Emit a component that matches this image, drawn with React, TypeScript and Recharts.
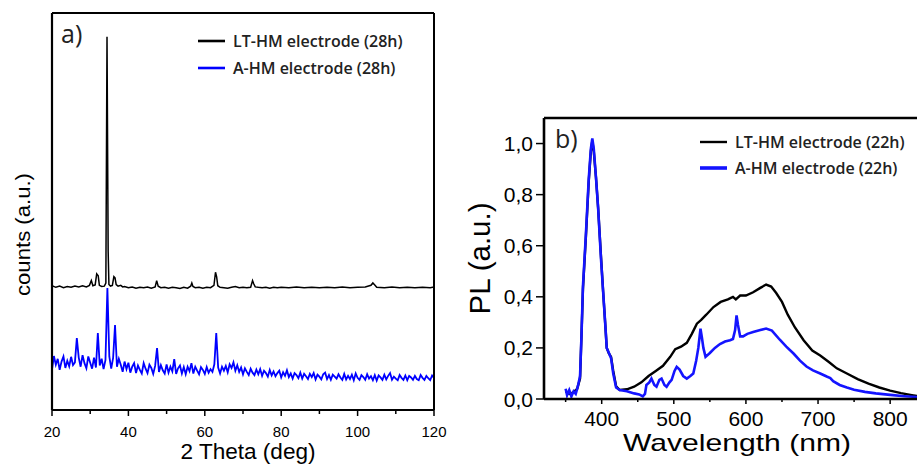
import React from 'react';
import { LineChart, Line, XAxis, YAxis, Legend, Label } from 'recharts';

// ---------- Panel a) XRD ----------
const xrdSeriesNames = ['LT-HM electrode (28h)', 'A-HM electrode (28h)'];
const xrdTicks = [20, 30, 40, 50, 60, 70, 80, 90, 100, 110, 120];
// LT-HM (black) [2theta, counts]
const xrdBlack: number[][] = [
  [20, 31.3], [21, 30.9], [22, 31.2], [23, 30.8], [24, 31.1], [25, 30.9], [26, 31.2], [27, 31.0], [28, 31.3], [29, 31.0],
  [29.8, 31.4], [30.3, 32.6], [30.7, 31.3], [31.3, 31.5], [31.7, 34.3], [32.1, 33.8], [32.4, 31.4], [33, 31.1], [33.7, 31.2],
  [34.1, 32.0], [34.4, 94], [34.7, 40], [34.9, 31.6], [35.3, 31.2], [35.8, 31.4], [36.2, 33.6], [36.5, 33.3], [36.8, 31.6],
  [37.3, 31.2], [38, 31.4], [38.5, 31.0], [39, 31.1], [40, 30.8], [41, 31.0], [42, 30.7], [43, 30.9], [44, 30.8], [45, 31.0],
  [46, 30.7], [47, 31.0], [47.4, 32.6], [47.8, 31.2], [48.5, 30.8], [49.5, 30.9], [50.5, 30.7], [51.5, 30.9], [52.5, 30.8],
  [53.5, 30.6], [54.5, 30.9], [55.5, 30.7], [56.3, 31.2], [56.6, 32.0], [56.9, 31.1], [57.5, 30.8], [58.5, 30.9], [59.5, 30.7],
  [60.5, 30.9], [61.5, 30.8], [62.4, 31.4], [62.8, 34.7], [63.1, 33.5], [63.4, 31.3], [64, 30.9], [65, 30.8], [66, 30.7],
  [67, 30.9], [68, 31.1], [69, 30.8], [70, 30.9], [71, 30.8], [72, 30.9], [72.5, 32.6], [72.8, 31.8], [73.2, 31.0], [74, 30.9],
  [75, 30.8], [76, 30.9], [77, 30.7], [78, 30.9], [79, 30.8], [80, 30.9], [82, 30.8], [84, 31.0], [86, 30.8], [88, 30.9],
  [90, 30.8], [92, 30.9], [94, 30.8], [96, 31.0], [98, 30.8], [100, 30.9], [102, 31.0], [103.5, 31.4], [104, 32.0],
  [104.5, 31.5], [105, 30.9], [107, 30.8], [109, 31.0], [111, 30.8], [113, 30.9], [115, 30.8], [117, 30.9], [119, 30.8], [120, 31.0],
];
// A-HM (blue) sampled every 0.5 deg from 20 to 120
const xrdBlueStart = 20;
const xrdBlueStep = 0.5;
const xrdBlueY = [
  10.2, 13.6, 11.4, 12.9, 10.1, 12.2, 13.5, 10.6, 12.4, 11.0, // 20-24.5
  13.4, 11.3, 12.0, 18.1, 13.2, 10.9, 13.8, 11.8, 10.5, 13.5, // 25-29.5
  11.9, 10.4, 13.2, 10.7, 19.4, 11.2, 12.9, 10.3, 12.6, 30.7, // 30-34.5
  13.5, 10.4, 13.1, 21.4, 10.9, 12.9, 11.4, 9.6, 12.2, 10.3, // 35-39.5
  11.9, 9.4, 10.9, 11.8, 9.3, 11.2, 10.1, 9.2, 11.8, 10.4, // 40-44.5
  9.3, 11.4, 10.6, 9.1, 11.1, 15.6, 9.6, 11.3, 10.0, 9.2, // 45-49.5
  11.5, 9.4, 10.9, 9.7, 12.8, 9.1, 10.5, 11.2, 9.2, 10.8, // 50-54.5
  9.0, 10.9, 9.8, 11.8, 9.2, 10.9, 9.9, 9.0, 10.8, 10.1, // 55-59.5
  9.1, 10.8, 9.4, 10.3, 9.6, 11.5, 19.4, 10.7, 9.2, 10.9, // 60-64.5
  9.9, 11.1, 9.5, 11.5, 10.6, 12.0, 9.9, 11.3, 9.6, 10.7, // 65-69.5
  9.0, 10.5, 9.6, 8.8, 10.4, 9.4, 8.8, 10.2, 9.0, 10.3, // 70-74.5
  8.6, 9.9, 9.3, 8.4, 10.1, 8.7, 9.7, 8.5, 9.3, 9.9, // 75-79.5
  8.2, 9.5, 8.6, 10.0, 8.3, 9.2, 7.9, 9.3, 8.8, 8.0, // 80-84.5
  9.4, 7.9, 9.1, 8.5, 7.8, 9.1, 8.3, 9.3, 7.7, 8.9, // 85-89.5
  8.4, 7.7, 9.0, 9.4, 7.8, 8.8, 7.6, 8.9, 8.4, 7.9, // 90-94.5
  9.0, 8.2, 7.6, 9.1, 7.7, 8.6, 7.8, 8.9, 7.5, 9.2, // 95-99.5
  8.1, 7.6, 8.8, 8.3, 7.6, 9.0, 7.9, 8.5, 7.5, 8.8, // 100-104.5
  7.4, 8.7, 8.2, 7.6, 8.9, 7.7, 8.6, 9.3, 7.6, 8.4, // 105-109.5
  7.9, 7.5, 8.8, 8.1, 7.6, 8.7, 7.5, 8.6, 8.2, 7.6, // 110-114.5
  8.6, 7.8, 7.5, 8.8, 8.1, 7.6, 8.6, 8.0, 7.5, 8.7, // 115-119.5
  8.1, // 120
];

// ---------- Panel b) PL ----------
const plSeriesNames = ['LT-HM electrode (22h)', 'A-HM electrode (22h)'];
const plXTicks = [350, 400, 450, 500, 550, 600, 650, 700, 750, 800];
const plYTicks = [0, 0.2, 0.4, 0.6, 0.8, 1.0];
const plBlack: number[][] = [
  [350, 0.03], [355, 0.02], [360, 0.025], [366, 0.04], [370, 0.08], [372, 0.25], [374, 0.43], [378, 0.63],
  [382, 0.85], [385, 0.97], [387, 1.01], [389, 0.97], [392, 0.87], [395, 0.75], [399, 0.56], [402, 0.42],
  [405, 0.29], [407, 0.2], [410, 0.178], [413, 0.165], [416, 0.11], [420, 0.05], [425, 0.035], [435, 0.038],
  [445, 0.048], [455, 0.065], [465, 0.09], [475, 0.11], [485, 0.13], [495, 0.165], [502, 0.195], [510, 0.205],
  [518, 0.22], [525, 0.255], [532, 0.295], [538, 0.31], [545, 0.33], [555, 0.36], [565, 0.38], [575, 0.39],
  [582, 0.4], [586, 0.39], [592, 0.405], [600, 0.405], [610, 0.418], [620, 0.435], [628, 0.448], [635, 0.44],
  [642, 0.415], [650, 0.38], [658, 0.33], [668, 0.28], [680, 0.23], [692, 0.19], [703, 0.17], [715, 0.145],
  [726, 0.12], [740, 0.1], [755, 0.078], [770, 0.06], [785, 0.045], [800, 0.033], [815, 0.023], [830, 0.015], [840, 0.01],
];
const plBlue: number[][] = [
  [350, 0.04], [352, 0.015], [355, 0.035], [358, 0.01], [361, 0.03], [364, 0.02], [367, 0.05], [370, 0.09],
  [372, 0.25], [374, 0.44], [378, 0.64], [382, 0.86], [385, 0.98], [387, 1.02], [389, 0.98], [392, 0.87],
  [395, 0.75], [399, 0.55], [402, 0.42], [405, 0.29], [407, 0.2], [410, 0.18], [413, 0.16], [416, 0.1],
  [420, 0.045], [425, 0.035], [435, 0.03], [445, 0.022], [452, 0.018], [457, 0.01], [460, 0.02], [462, 0.055],
  [466, 0.065], [469, 0.08], [473, 0.055], [476, 0.048], [480, 0.075], [483, 0.08], [487, 0.055], [490, 0.048],
  [494, 0.065], [497, 0.075], [501, 0.11], [504, 0.126], [508, 0.115], [513, 0.09], [518, 0.08], [523, 0.09],
  [527, 0.1], [531, 0.15], [534, 0.2], [537, 0.275], [539, 0.24], [541, 0.2], [544, 0.165], [550, 0.18],
  [557, 0.2], [564, 0.215], [571, 0.225], [578, 0.23], [582, 0.235], [585, 0.27], [587, 0.327], [589, 0.29],
  [592, 0.245], [596, 0.245], [602, 0.255], [610, 0.262], [620, 0.27], [628, 0.276], [636, 0.268], [647, 0.232],
  [656, 0.205], [666, 0.178], [675, 0.15], [684, 0.127], [693, 0.112], [703, 0.1], [712, 0.088], [717, 0.082],
  [721, 0.07], [730, 0.055], [740, 0.045], [750, 0.036], [765, 0.028], [780, 0.022], [800, 0.016], [820, 0.011], [840, 0.007],
];

// ---------- derived tables ----------
const toRows = (pairs: number[][]) => pairs.map(([x, y]) => ({ x, y }));
const xrdBlackRows = toRows(xrdBlack);
const xrdBlueRows = xrdBlueY.map((y, i) => ({ x: xrdBlueStart + i * xrdBlueStep, y }));
const plBlackRows = toRows(plBlack);
const plBlueRows = toRows(plBlue);

const ARIAL = '"Liberation Sans", Arial, sans-serif';
const OPEN = '"Open Sans", "DejaVu Sans", sans-serif';
const BLUE_A = '#0000ff';
const BLUE_B = '#1414ff';

const XTickA = (props: any) => {
  const { x, y, payload } = props;
  const v = payload.value;
  const major = v % 20 === 0;
  return (
    <g>
      <line x1={x} x2={x} y1={y} y2={y + (major ? 6 : 4)} stroke="#000" strokeWidth={1.5} />
      {major && (
        <text x={x} y={y + 27} textAnchor="middle" fontSize={15} fontFamily={ARIAL} fill="#000">
          {v}
        </text>
      )}
    </g>
  );
};

const XTickB = (props: any) => {
  const { x, y, payload } = props;
  const v = payload.value;
  const major = v % 100 === 0;
  return (
    <g>
      <line x1={x} x2={x} y1={y} y2={y + (major ? 5 : 3)} stroke="#000" strokeWidth={1.5} />
      {major && (
        <text x={x} y={y + 26.5} textAnchor="middle" fontSize={21} fontFamily={ARIAL} fill="#000">
          {v}
        </text>
      )}
    </g>
  );
};

const YTickB = (props: any) => {
  const { x, y, payload } = props;
  const v = payload.value as number;
  return (
    <g>
      <line x1={x} x2={x - 8} y1={y} y2={y} stroke="#000" strokeWidth={1.5} />
      <text x={x - 11} y={y + 7.5} textAnchor="end" fontSize={21} fontFamily={ARIAL} fill="#000">
        {v.toFixed(1).replace('.', ',')}
      </text>
    </g>
  );
};

const makeLegend = (order: string[], widths: number[], rowH: number) => (props: any) => {
  const payload = [...(props.payload || [])].sort(
    (a: any, b: any) => order.indexOf(a.value) - order.indexOf(b.value)
  );
  return (
    <div style={{ fontFamily: OPEN, fontSize: 16, fontWeight: 600, color: '#222' }}>
      {payload.map((p: any, i: number) => (
        <div key={p.value} style={{ display: 'flex', alignItems: 'center', height: rowH, whiteSpace: 'nowrap' }}>
          <svg width={27} height={6} style={{ display: 'block' }}>
            <line x1={0} x2={27} y1={3} y2={3} stroke={p.color} strokeWidth={widths[i]} />
          </svg>
          <span style={{ marginLeft: 8, lineHeight: 1 }}>{p.value}</span>
        </div>
      ))}
    </div>
  );
};

const LegendA = makeLegend(xrdSeriesNames, [2.6, 2.6], 27);
const LegendB = makeLegend(plSeriesNames, [2.4, 3.6], 26);

const PanelLetter = (letter: string, dx: number, dy: number) => (props: any) => {
  const vb = props.viewBox || {};
  return (
    <text x={vb.x + dx} y={vb.y + vb.height + dy} fontSize={25} fontFamily={OPEN} fill="#222">
      {letter}
    </text>
  );
};

const HLabel = (text: string, dx: number, dy: number, size: number, len: number) => (props: any) => {
  const vb = props.viewBox || {};
  return (
    <text
      x={vb.x + vb.width / 2 + dx}
      y={vb.y + dy}
      textAnchor="middle"
      fontSize={size}
      fontFamily={ARIAL}
      fill="#000"
      textLength={len}
      lengthAdjust="spacingAndGlyphs"
    >
      {text}
    </text>
  );
};

const VLabel = (text: string, cxFromRight: number, dy: number, size: number, len: number) => (props: any) => {
  const vb = props.viewBox || {};
  const cx = vb.x + vb.width - cxFromRight;
  const cy = vb.y + vb.height / 2 + dy;
  return (
    <text
      x={cx}
      y={cy}
      transform={`rotate(-90, ${cx}, ${cy})`}
      textAnchor="middle"
      dominantBaseline="central"
      fontSize={size}
      fontFamily={ARIAL}
      fill="#000"
      textLength={len}
      lengthAdjust="spacingAndGlyphs"
    >
      {text}
    </text>
  );
};

export default function App() {
  return (
    <div style={{ position: 'absolute', left: 0, top: 0, width: 917, height: 466, overflow: 'hidden', background: '#fff' }}>
      <div style={{ position: 'absolute', left: 0, top: 0 }}>
        <LineChart width={460} height={466} margin={{ top: 12, right: 25, bottom: 0, left: 51 }}>
          <XAxis
            dataKey="x"
            type="number"
            domain={[20, 120]}
            ticks={xrdTicks}
            allowDataOverflow
            interval={0}
            height={56}
            tickSize={0}
            tickMargin={0}
            tickLine={false}
            tick={<XTickA />}
            axisLine={{ stroke: '#000', strokeWidth: 2.2 }}
          >
            <Label content={HLabel('2 Theta (deg)', 5, 49, 22, 135)} />
          </XAxis>
          <XAxis
            xAxisId="top"
            orientation="top"
            dataKey="x"
            type="number"
            domain={[20, 120]}
            allowDataOverflow
            height={1}
            tick={false}
            tickLine={false}
            axisLine={{ stroke: '#000', strokeWidth: 2.2 }}
          >
            <Label content={PanelLetter('a)', 9, 30)} />
          </XAxis>
          <YAxis
            type="number"
            domain={[0, 100]}
            allowDataOverflow
            width={1}
            tick={false}
            tickLine={false}
            axisLine={{ stroke: '#000', strokeWidth: 2.2 }}
          >
            <Label content={VLabel('counts (a.u.)', 30, 23, 21, 123)} />
          </YAxis>
          <YAxis
            yAxisId="r"
            orientation="right"
            type="number"
            domain={[0, 100]}
            allowDataOverflow
            width={1}
            tick={false}
            tickLine={false}
            axisLine={{ stroke: '#000', strokeWidth: 2 }}
          />
          <Legend
            layout="vertical"
            align="center"
            verticalAlign="middle"
            content={LegendA}
            wrapperStyle={{ left: 198, top: 27.5, width: 'auto', height: 'auto' }}
          />
          <Line
            data={xrdBlackRows}
            dataKey="y"
            name={xrdSeriesNames[0]}
            stroke="#000"
            strokeWidth={1.5}
            dot={false}
            isAnimationActive={false}
          />
          <Line
            data={xrdBlueRows}
            dataKey="y"
            name={xrdSeriesNames[1]}
            stroke={BLUE_A}
            strokeWidth={1.8}
            dot={false}
            isAnimationActive={false}
          />
        </LineChart>
      </div>
      <div style={{ position: 'absolute', left: 460, top: 0 }}>
        <LineChart width={460} height={466} margin={{ top: 117, right: 1, bottom: 0, left: 0 }}>
          <XAxis
            dataKey="x"
            type="number"
            domain={[320, 840]}
            ticks={plXTicks}
            allowDataOverflow
            interval={0}
            height={67}
            tickSize={0}
            tickMargin={0}
            tickLine={false}
            tick={<XTickB />}
            axisLine={{ stroke: '#000', strokeWidth: 2.6 }}
          >
            <Label content={HLabel('Wavelength (nm)', 5.5, 52, 24, 228)} />
          </XAxis>
          <XAxis
            xAxisId="top"
            orientation="top"
            dataKey="x"
            type="number"
            domain={[320, 840]}
            allowDataOverflow
            height={1}
            tick={false}
            tickLine={false}
            axisLine={{ stroke: '#000', strokeWidth: 2.6 }}
          >
            <Label content={PanelLetter('b)', 11, 30)} />
          </XAxis>
          <YAxis
            type="number"
            domain={[0, 1.1]}
            ticks={plYTicks}
            allowDataOverflow
            interval={0}
            width={84}
            tickSize={0}
            tickMargin={0}
            tickLine={false}
            tick={<YTickB />}
            axisLine={{ stroke: '#000', strokeWidth: 2.6 }}
          >
            <Label content={VLabel('PL (a.u.)', 64, 0, 29, 112)} />
          </YAxis>
          <Legend
            layout="vertical"
            align="center"
            verticalAlign="middle"
            content={LegendB}
            wrapperStyle={{ left: 240, top: 129, width: 'auto', height: 'auto' }}
          />
          <Line
            data={plBlackRows}
            dataKey="y"
            name={plSeriesNames[0]}
            stroke="#000"
            strokeWidth={2.4}
            dot={false}
            isAnimationActive={false}
          />
          <Line
            data={plBlueRows}
            dataKey="y"
            name={plSeriesNames[1]}
            stroke={BLUE_B}
            strokeWidth={2.6}
            dot={false}
            isAnimationActive={false}
          />
        </LineChart>
      </div>
    </div>
  );
}
